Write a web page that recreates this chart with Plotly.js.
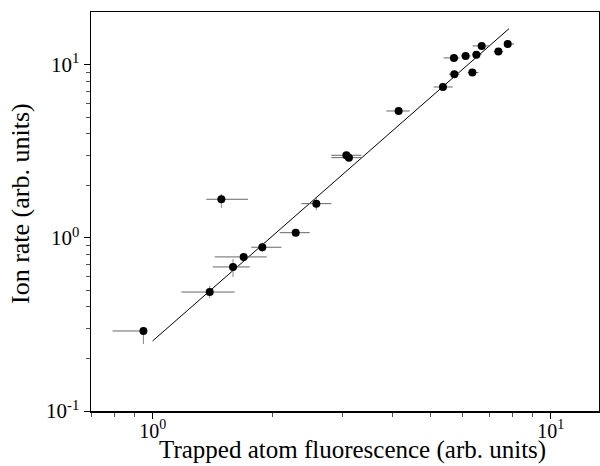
<!DOCTYPE html>
<html>
<head>
<meta charset="utf-8">
<script src="https://cdn.plot.ly/plotly-3.0.1.min.js"></script>
<style>
html,body{margin:0;padding:0;overflow:hidden;background:#fff;}
#chart{width:600px;height:466px;}
</style>
</head>
<body>
<div id="chart"></div>
<script>
// Trapped atom fluorescence (arb. units)
const fluor = [0.948, 1.391, 1.488, 1.592, 1.693, 1.886, 2.288, 2.578, 3.067, 3.113, 4.15, 5.363, 5.728, 5.715, 6.114, 6.507, 6.71, 6.358, 7.39, 7.80];
// Ion rate (arb. units)
const ionRate = [0.290, 0.487, 1.674, 0.680, 0.777, 0.884, 1.073, 1.579, 3.006, 2.912, 5.42, 7.46, 8.84, 10.98, 11.27, 11.47, 12.88, 9.03, 11.94, 13.23];
// horizontal error bars (absolute low / high edges)
const fluorLow  = [0.793, 1.181, 1.364, 1.415, 1.432, 1.770, 2.085, 2.364, 2.812, 2.812, 3.866, 5.082, 5.55, 5.383, 5.95, 6.35, 6.37, 6.186, 7.2, 7.80];
const fluorHigh = [0.948, 1.607, 1.736, 1.753, 1.934, 2.106, 2.480, 2.812, 3.345, 3.345, 4.424, 5.674, 5.90, 5.907, 6.30, 6.70, 7.03, 6.59, 7.6, 8.10];
// vertical error bars (absolute low / high edges)
const ionLow  = [0.244, 0.450, 1.491, 0.595, 0.777, 0.830, 1.073, 1.45, 3.006, 2.912, 5.42, 7.46, 8.84, 10.98, 11.27, 11.47, 12.88, 9.03, 11.94, 13.23];
const ionHigh = [0.290, 0.528, 1.796, 0.756, 0.777, 0.940, 1.073, 1.70, 3.006, 2.912, 5.42, 7.46, 8.84, 10.98, 11.27, 11.47, 12.88, 9.03, 11.94, 13.23];
// fitted line
const fitX = [1.0, 7.86];
const fitY = [0.254, 16.21];

const xMajor = [1, 10];
const xMajorText = ['10<sup>0</sup>', '10<sup>1</sup>'];
const xMinor = [0.7, 0.8, 0.9, 2, 3, 4, 5, 6, 7, 8, 9];
const yMajor = [0.1, 1, 10];
const yMajorText = ['10<sup>-1</sup>', '10<sup>0</sup>', '10<sup>1</sup>'];
const yMinor = [0.2, 0.3, 0.4, 0.5, 0.6, 0.7, 0.8, 0.9, 2, 3, 4, 5, 6, 7, 8, 9];
const xTitle = 'Trapped atom fluorescence (arb. units)';
const yTitle = 'Ion rate (arb. units)';

const plus = (hi, v) => hi.map((h, i) => Math.max(0, h - v[i]));
const minus = (lo, v) => lo.map((l, i) => Math.max(0, v[i] - l));

const font = 'Liberation Serif, DejaVu Serif, serif';

const data = [
  {
    x: fitX, y: fitY, type: 'scatter', mode: 'lines',
    line: {color: '#000', width: 1}, hoverinfo: 'skip', showlegend: false
  },
  {
    x: fluor, y: ionRate, type: 'scatter', mode: 'markers',
    marker: {color: '#000', size: 8, symbol: 'circle'},
    error_x: {type: 'data', symmetric: false, array: plus(fluorHigh, fluor), arrayminus: minus(fluorLow, fluor),
              color: '#666', thickness: 1, width: 0},
    error_y: {type: 'data', symmetric: false, array: plus(ionHigh, ionRate), arrayminus: minus(ionLow, ionRate),
              color: '#888', thickness: 1, width: 0},
    showlegend: false
  }
];

const layout = {
  width: 600, height: 466,
  margin: {l: 91, r: 1, t: 12, b: 55},
  paper_bgcolor: '#fff', plot_bgcolor: '#fff',
  font: {family: font, color: '#000', size: 19},
  showlegend: false,
  xaxis: {
    type: 'log', range: [Math.log10(0.7), Math.log10(0.7) + 508 / 398],
    tickmode: 'array', tickvals: xMajor, ticktext: xMajorText,
    ticks: 'outside', ticklen: 6, tickwidth: 1, tickcolor: '#000',
    ticklabelstandoff: -5,
    showline: true, linecolor: '#000', linewidth: 1.5, mirror: true,
    showgrid: false, zeroline: false,
    tickfont: {family: font, size: 20, color: '#000'},
    minor: {tickmode: 'array', tickvals: xMinor, ticks: 'outside', ticklen: 4, tickcolor: '#555', showgrid: false}
  },
  yaxis: {
    type: 'log', range: [-1, 1.306],
    tickmode: 'array', tickvals: yMajor, ticktext: yMajorText,
    ticks: 'outside', ticklen: 6, tickwidth: 1, tickcolor: '#000',
    showline: true, linecolor: '#000', linewidth: 1.5, mirror: true,
    showgrid: false, zeroline: false,
    tickfont: {family: font, size: 21, color: '#000'},
    minor: {tickmode: 'array', tickvals: yMinor, ticks: 'outside', ticklen: 4, tickcolor: '#555', showgrid: false}
  },
  annotations: [
    {text: xTitle, xref: 'paper', yref: 'paper', x: (352 - 91) / 508, y: -(466 - 411) / 399,
     xanchor: 'center', yanchor: 'bottom', showarrow: false,
     font: {family: font, size: 25, color: '#000'}},
    {text: yTitle, xref: 'paper', yref: 'paper', x: (20 - 91) / 508, y: (411 - 204) / 399,
     xanchor: 'center', yanchor: 'middle', textangle: -90, showarrow: false,
     font: {family: font, size: 26, color: '#000'}}
  ]
};

Plotly.newPlot('chart', data, layout, {staticPlot: true, displayModeBar: false});
</script>
</body>
</html>
